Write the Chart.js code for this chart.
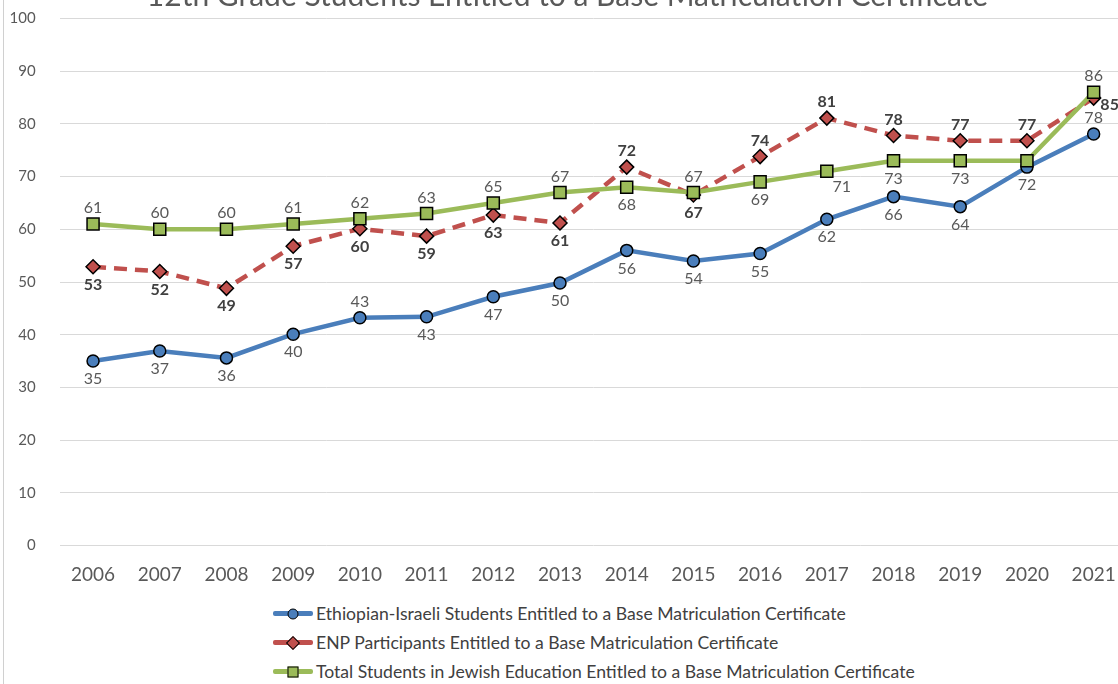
<!DOCTYPE html>
<html>
<head>
<meta charset="utf-8">
<script src="https://cdn.jsdelivr.net/npm/chart.js@4/dist/chart.umd.min.js"></script>
<style>
  html, body { margin: 0; padding: 0; background: #fff; overflow: hidden; width: 1118px; height: 684px; }
  #border { position: absolute; left: 3px; top: 0; width: 1px; height: 684px; background: #d0d0d0; }
  #wrap { position: absolute; left: 0; top: -30px; width: 1140px; height: 620px; }
  #legend { position: absolute; left: 273px; top: 599px; font-family: Lato, sans-serif; font-size: 17.6px; color: #404040; }
  .row { height: 29px; display: flex; align-items: center; }
  .sample { position: relative; width: 40px; height: 5px; border-radius: 2px; margin-right: 3px; }
  .mk { position: absolute; left: 50%; top: 50%; border: 1.5px solid #000; box-sizing: border-box; }
</style>
</head>
<body>
<div id="border"></div>
<div id="wrap"><canvas id="line-chart" width="1140" height="620"></canvas></div>
<div id="legend"></div>
<script>
var years = ["2006", "2007", "2008", "2009", "2010", "2011", "2012", "2013", "2014", "2015", "2016", "2017", "2018", "2019", "2020", "2021"];
var ethiopian = [35.0, 36.9, 35.6, 40.1, 43.2, 43.4, 47.2, 49.8, 56.0, 54.0, 55.4, 61.9, 66.2, 64.3, 71.8, 78.1];
var enp = [52.9, 52.0, 48.8, 56.8, 60.1, 58.7, 62.7, 61.2, 71.8, 66.5, 73.8, 81.1, 77.8, 76.8, 76.8, 84.9];
var totalJewish = [61, 60, 60, 61, 62, 63, 65, 67, 68, 67, 69, 71, 73, 73, 73, 86];

// where each value label sits: t = above, b = below, r = right, br = below right
var ethiopianPos = ["b", "b", "b", "b", "t", "b", "b", "b", "b", "b", "b", "b", "b", "b", "b", "t"];
var enpPos = ["b", "b", "b", "b", "b", "b", "b", "b", "t", "b", "t", "t", "t", "t", "t", "r"];
var totalPos = ["t", "t", "t", "t", "t", "t", "t", "t", "b", "t", "b", "br", "b", "b", null, "t"];

var seriesNames = [
    "Ethiopian-Israeli Students Entitled to a Base Matriculation Certificate",
    "ENP Participants Entitled to a Base Matriculation Certificate",
    "Total Students in Jewish Education Entitled to a Base Matriculation Certificate"
];

const BLUE = "#4a7ebb";
const RED = "#c0504d";
const GREEN = "#9bbb59";

const valueLabels = {
    id: "valueLabels",
    afterDatasetsDraw(chart) {
        const ctx = chart.ctx;
        ctx.save();
        ctx.textAlign = "center";
        ctx.textBaseline = "middle";
        chart.data.datasets.forEach(function (ds, i) {
            const meta = chart.getDatasetMeta(i);
            ctx.font = (ds.labelBold ? "bold " : "") + "16px Lato, sans-serif";
            ctx.fillStyle = ds.labelBold ? "#404040" : "#595959";
            meta.data.forEach(function (pt, j) {
                const pos = ds.labelPos[j];
                if (!pos) return;
                let x = pt.x, y = pt.y;
                if (pos === "t") y -= 16;
                if (pos === "b") y += 18;
                if (pos === "r") { x += 16; y += 7; }
                if (pos === "br") { x += 15; y += 16; }
                ctx.fillText(String(Math.round(ds.data[j])), x, y);
            });
        });
        ctx.restore();
    }
};

const lineChart = document.getElementById("line-chart");
var CHART1 = new Chart(lineChart, {
    type: "line",
    data: {
        labels: years,
        datasets: [{
            label: seriesNames[0],
            data: ethiopian,
            borderColor: BLUE,
            backgroundColor: BLUE,
            borderWidth: 4.5,
            pointStyle: "circle",
            pointRadius: 6,
            pointBorderColor: "#000",
            pointBorderWidth: 1.5,
            pointBackgroundColor: BLUE,
            labelPos: ethiopianPos,
            order: 2
        }, {
            label: seriesNames[1],
            data: enp,
            borderColor: RED,
            backgroundColor: RED,
            borderWidth: 4.5,
            borderDash: [13, 8],
            pointStyle: "rectRot",
            pointRadius: 7,
            pointBorderColor: "#000",
            pointBorderWidth: 1.5,
            pointBackgroundColor: RED,
            labelPos: enpPos,
            labelBold: true,
            order: 1
        }, {
            label: seriesNames[2],
            data: totalJewish,
            borderColor: GREEN,
            backgroundColor: GREEN,
            borderWidth: 4.5,
            pointStyle: "rect",
            pointRadius: 8.5,
            pointBorderColor: "#000",
            pointBorderWidth: 1.5,
            pointBackgroundColor: GREEN,
            labelPos: totalPos,
            order: 0
        }]
    },
    options: {
        responsive: false,
        animation: false,
        layout: { padding: { left: 8, right: 13, top: 0, bottom: 0 } },
        plugins: {
            legend: { display: false },
            tooltip: { enabled: false },
            title: {
                display: true,
                text: "12th Grade Students Entitled to a Base Matriculation Certificate",
                color: "#595959",
                font: { family: "Lato, sans-serif", size: 30, weight: "normal" },
                padding: { top: 8.8, bottom: 3.7 }
            }
        },
        scales: {
            x: {
                offset: true,
                grid: { display: false, drawTicks: false },
                border: { display: false },
                ticks: { color: "#595959", padding: 18, font: { family: "Lato, sans-serif", size: 19 }, maxRotation: 0 },
                afterFit: function (scale) { scale.height = 44.5; }
            },
            y: {
                min: 0,
                max: 100,
                grid: { color: "#d9d9d9", drawTicks: false },
                border: { display: false },
                ticks: { stepSize: 10, color: "#595959", padding: 24, font: { family: "Lato, sans-serif", size: 15 } },
                afterFit: function (scale) { scale.width = 51.7; }
            }
        }
    },
    plugins: [valueLabels]
});

// legend below the chart, one series per row
function buildLegend() {
    const box = document.getElementById("legend");
    const kinds = [
        { color: BLUE, w: 11, h: 11, radius: "50%", rot: 0 },
        { color: RED, w: 10, h: 10, radius: "0", rot: 45 },
        { color: GREEN, w: 11, h: 11, radius: "0", rot: 0 }
    ];
    seriesNames.forEach(function (name, i) {
        const k = kinds[i];
        const row = document.createElement("div");
        row.className = "row";
        const sample = document.createElement("span");
        sample.className = "sample";
        sample.style.background = k.color;
        const mk = document.createElement("span");
        mk.className = "mk";
        mk.style.width = k.w + "px";
        mk.style.height = k.h + "px";
        mk.style.borderRadius = k.radius;
        mk.style.background = k.color;
        mk.style.transform = "translate(-50%, -50%) rotate(" + k.rot + "deg)";
        sample.appendChild(mk);
        const txt = document.createElement("span");
        txt.textContent = name;
        row.appendChild(sample);
        row.appendChild(txt);
        box.appendChild(row);
    });
}
buildLegend();
</script>
</body>
</html>
